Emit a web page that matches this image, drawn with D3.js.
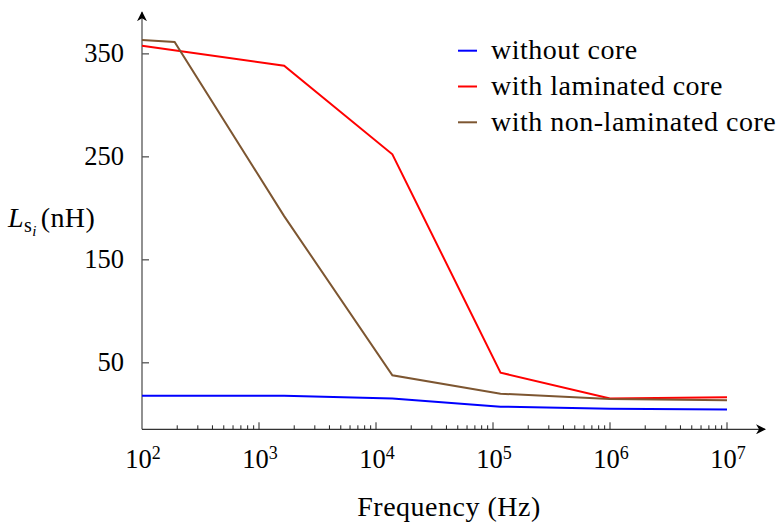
<!DOCTYPE html>
<html><head><meta charset="utf-8">
<script src="https://cdn.jsdelivr.net/npm/d3@7"></script>
<style>body{margin:0;background:#fff}svg{display:block}text{font-family:"Liberation Serif","Times New Roman",serif;fill:#000}</style>
</head><body>
<svg id="c" width="780" height="522"></svg>
<script>
// ---- data ----
const freqs = [100, 1640, 13800, 116000, 1e6, 1e7];
const freqsNonLam = [100, 190, 1640, 13800, 116000, 1e6, 1e7];
const withoutCore = [17.5, 17.5, 15, 7, 5, 4.2];
const laminatedCore = [357.5, 338, 252, 40, 15, 16];
const nonLaminatedCore = [363, 361, 192, 37.5, 19.5, 14.5, 13.3];
const yTicks = [50, 150, 250, 350];
const xMajorExp = [2, 3, 4, 5, 6, 7];
const seriesNames = ["without core", "with laminated core", "with non-laminated core"];
const seriesColors = ["#0000ff", "#ff0000", "#7d5631"];

const svg = d3.select("#c");
const x = d3.scaleLog().domain([100, 1e7]).range([142, 727]);
const y = d3.scaleLinear().domain([-15, 390]).range([429.3, 12.2]);

// arrow marker
svg.append("defs").append("marker").attr("id","arr").attr("viewBox","0 0 10 10")
  .attr("refX",9).attr("refY",5).attr("markerWidth",10).attr("markerHeight",10)
  .attr("markerUnits","userSpaceOnUse").attr("orient","auto")
  .append("path").attr("d","M0,0 L10,5 L0,10 L3,5 Z").attr("fill","#000");

// y axis
const yAx = svg.append("g").attr("transform",`translate(${x(100)},0)`)
  .call(d3.axisLeft(y).tickValues(yTicks).tickSizeInner(-7).tickSizeOuter(0).tickPadding(18));
yAx.select(".domain").remove();
yAx.selectAll(".tick line").attr("stroke","#222");
yAx.selectAll(".tick text").attr("font-size",26.5).attr("font-family","Liberation Serif").attr("fill","#000");
svg.append("line").attr("x1",x(100)).attr("x2",x(100)).attr("y1",y(-15)).attr("y2",y(390))
  .attr("stroke","#555").attr("stroke-width",1.3).attr("marker-end","url(#arr)");

// x axis
const xEnd = 765;
svg.append("line").attr("x1",x(100)).attr("x2",xEnd).attr("y1",y(-15)).attr("y2",y(-15))
  .attr("stroke","#333").attr("stroke-width",1.3).attr("marker-end","url(#arr)");
const minor = [];
for (let e = 2; e < 7; e++) for (let m = 2; m <= 9; m++) minor.push(m * Math.pow(10, e));
svg.append("g").selectAll("line").data(minor).join("line")
  .attr("x1",d=>x(d)).attr("x2",d=>x(d)).attr("y1",y(-15)).attr("y2",y(-15)-4)
  .attr("stroke","#222").attr("stroke-width",1);
svg.append("g").selectAll("line").data(xMajorExp.slice(1)).join("line")
  .attr("x1",d=>x(Math.pow(10,d))).attr("x2",d=>x(Math.pow(10,d)))
  .attr("y1",y(-15)).attr("y2",y(-15)-7).attr("stroke","#222").attr("stroke-width",1);
const xl = svg.append("g").selectAll("text").data(xMajorExp).join("text")
  .attr("x",d=>x(Math.pow(10,d))+1).attr("y",468).attr("text-anchor","middle").attr("font-size",26.5);
xl.append("tspan").text("10");
xl.append("tspan").attr("dy",-9).attr("font-size",18).text(d=>d);

// axis titles
svg.append("text").attr("x",449).attr("y",516).attr("text-anchor","middle").attr("font-size",28)
  .attr("letter-spacing",0.5).text("Frequency (Hz)");
const yl = svg.append("text").attr("x",8).attr("y",227).attr("font-size",28).attr("letter-spacing",0.4);
yl.append("tspan").attr("font-style","italic").text("L");
yl.append("tspan").attr("dy",5).attr("font-size",20).text("s");
yl.append("tspan").attr("dy",4).attr("font-size",15).attr("font-style","italic").text("i");
yl.append("tspan").attr("dy",-9).attr("dx",4).text("(nH)");

// lines
const line = d3.line().x(d=>x(d[0])).y(d=>y(d[1]));
const series = [
  freqs.map((f,i)=>[f, withoutCore[i]]),
  freqs.map((f,i)=>[f, laminatedCore[i]]),
  freqsNonLam.map((f,i)=>[f, nonLaminatedCore[i]])
];
svg.append("g").selectAll("path").data(series).join("path")
  .attr("d",line).attr("fill","none").attr("stroke",(d,i)=>seriesColors[i]).attr("stroke-width",2);

// legend
const lg = svg.append("g").selectAll("g").data(seriesNames).join("g")
  .attr("transform",(d,i)=>`translate(458,${50.7 + i*35.8})`);
lg.append("line").attr("x1",0).attr("x2",19).attr("stroke",(d,i)=>seriesColors[i]).attr("stroke-width",2);
lg.append("text").attr("x",33).attr("y",8.5).attr("font-size",28).attr("letter-spacing",0.5).text(d=>d);
</script>
</body></html>
